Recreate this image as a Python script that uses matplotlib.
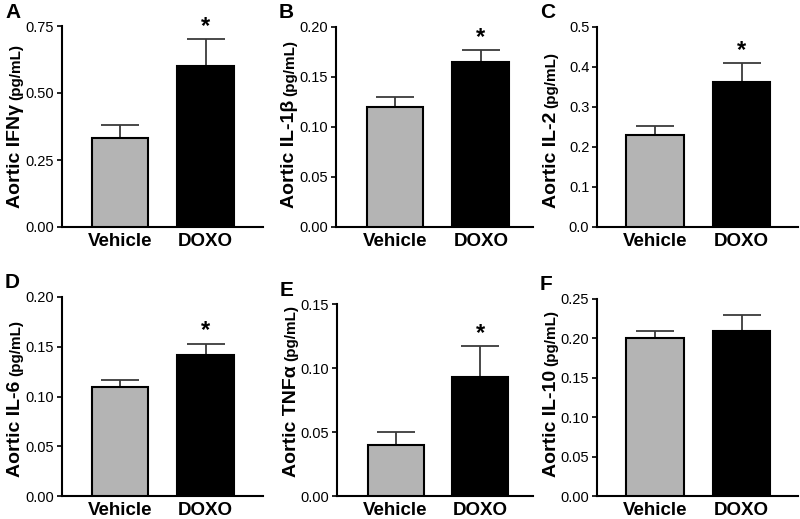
import matplotlib
matplotlib.use("Agg")
import matplotlib.pyplot as plt
import numpy as np

plt.rcParams['font.family'] = ['Liberation Sans', 'DejaVu Sans']

groups = ["Vehicle", "DOXO"]
panel_letters = ["A", "B", "C", "D", "E", "F"]
cytokines = ["IFN\u03b3", "IL-1\u03b2", "IL-2", "IL-6", "TNF\u03b1", "IL-10"]
means = {
    "A": [0.333, 0.600],
    "B": [0.120, 0.165],
    "C": [0.230, 0.362],
    "D": [0.110, 0.142],
    "E": [0.040, 0.093],
    "F": [0.200, 0.210],
}
sems = {
    "A": [0.047, 0.100],
    "B": [0.010, 0.012],
    "C": [0.022, 0.047],
    "D": [0.007, 0.011],
    "E": [0.010, 0.024],
    "F": [0.010, 0.020],
}
significant = {"A": True, "B": True, "C": True, "D": True, "E": True, "F": False}
yticks = {
    "A": [0.00, 0.25, 0.50, 0.75],
    "B": [0.00, 0.05, 0.10, 0.15, 0.20],
    "C": [0.0, 0.1, 0.2, 0.3, 0.4, 0.5],
    "D": [0.00, 0.05, 0.10, 0.15, 0.20],
    "E": [0.00, 0.05, 0.10, 0.15],
    "F": [0.00, 0.05, 0.10, 0.15, 0.20, 0.25],
}
ytick_fmt = {"A": "{:.2f}", "B": "{:.2f}", "C": "{:.1f}", "D": "{:.2f}", "E": "{:.2f}", "F": "{:.2f}"}

W, H = 800, 519
fig = plt.figure(figsize=(8, 5.19), dpi=100)

# pixel layout: (left, right, top, bottom)
layout = {
    "A": (62, 263, 26, 227),
    "B": (336, 533, 27, 227),
    "C": (597, 798, 27, 227),
    "D": (62, 263, 297, 496),
    "E": (337, 533, 304, 496),
    "F": (597, 798, 299, 496),
}
xlims = {
    "A": (-0.68, 1.67),
    "B": (-0.69, 1.61),
    "C": (-0.67, 1.65),
    "D": (-0.68, 1.67),
    "E": (-0.69, 1.62),
    "F": (-0.67, 1.65),
}

colors = ["#b4b4b4", "#000000"]

for letter, cyto in zip(panel_letters, cytokines):
    l, r, t, b = layout[letter]
    ax = fig.add_axes([l / W, 1 - b / H, (r - l) / W, (b - t) / H])
    x = np.arange(len(groups))
    ax.bar(x, means[letter], width=0.66, color=colors, edgecolor="black",
           linewidth=1.5, zorder=3)
    ax.errorbar(x, means[letter], yerr=[np.zeros(2), sems[letter]], fmt="none",
                ecolor="#3a3a3a", elinewidth=1.3, capsize=14, capthick=1.3, zorder=2)
    if significant[letter]:
        top = means[letter][1] + sems[letter][1]
        ax.annotate("*", xy=(1, top), xytext=(0, 1), textcoords="offset points",
                    ha="center", va="bottom", fontsize=17, fontweight="bold")
    ax.set_xlim(*xlims[letter])
    ax.set_ylim(yticks[letter][0], yticks[letter][-1])
    ax.set_yticks(yticks[letter])
    ax.set_yticklabels([ytick_fmt[letter].format(v) for v in yticks[letter]], fontsize=10.5)
    ax.set_xticks(x)
    ax.set_xticklabels(groups, fontsize=13.5, fontweight="bold")
    ax.tick_params(axis="x", length=0, pad=4)
    ax.tick_params(axis="y", length=3.5, width=1.2, pad=2)
    for s in ["top", "right"]:
        ax.spines[s].set_visible(False)
    for s in ["left", "bottom"]:
        ax.spines[s].set_linewidth(1.5)
    ax.patch.set_visible(False)

    # y label: bold "Aortic X" + smaller "(pg/mL)"
    lab_x = (l - 46) / W
    lab_y_bottom = 1 - 208 / H if letter in "ABC" else 1 - 477 / H
    t1 = fig.text(lab_x, lab_y_bottom, "Aortic " + cyto, rotation=90, ha="center",
                  va="bottom", fontsize=14, fontweight="bold")
    fig.canvas.draw()
    fig.add_artist(plt.Annotation("(pg/mL)", xy=(0.5, 1), xycoords=t1,
                   xytext=(0, 3), textcoords="offset points",
                   rotation=90, ha="center", va="bottom",
                   fontsize=11, fontweight="bold"))

    fig.text((l - 57) / W, 1 - (t - 14) / H, letter, fontsize=15, fontweight="bold",
             ha="left", va="center")

fig.savefig("out.png", dpi=100)
